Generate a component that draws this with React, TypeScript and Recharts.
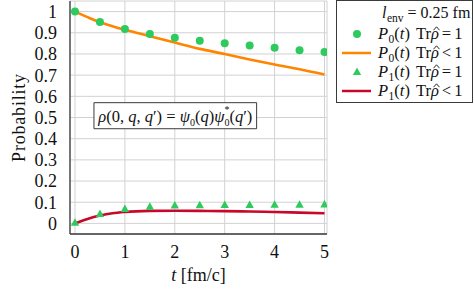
import React from 'react';
import { ComposedChart, Line, Scatter, XAxis, YAxis, CartesianGrid, ReferenceArea, Legend, Label } from 'recharts';

const tPoints = [0, 0.5, 1, 1.5, 2, 2.5, 3, 3.5, 4, 4.5, 5];
const p0Closed = [1.0, 0.951, 0.918, 0.894, 0.877, 0.862, 0.851, 0.84, 0.829, 0.818, 0.809];
const p1Closed = [0.003, 0.045, 0.068, 0.079, 0.085, 0.086, 0.087, 0.087, 0.088, 0.088, 0.089];
const tCurve = [0, 0.25, 0.5, 0.75, 1, 1.5, 2, 2.5, 3, 3.5, 4, 4.5, 5];
const p0Open = [1.0, 0.974, 0.95, 0.931, 0.914, 0.884, 0.854, 0.824, 0.8, 0.774, 0.75, 0.728, 0.703];
const p1Open = [0, 0.021, 0.037, 0.048, 0.054, 0.059, 0.06, 0.059, 0.058, 0.056, 0.054, 0.051, 0.048];
const xTicks = [0, 1, 2, 3, 4, 5];
const yTicks = [0, 0.1, 0.2, 0.3, 0.4, 0.5, 0.6, 0.7, 0.8, 0.9, 1];
const xDomain = [-0.1, 5.05];
const yDomain = [-0.05, 1.05];
const annotationX = [0.38, 3.64];
const annotationY = [0.447, 0.57];

const GREEN = '#2fca5e';
const ORANGE = '#ff8500';
const RED = '#c8082a';
const FRAME = '#3a3a3a';
const GRID = '#d2d2d2';
const FONT = "'Liberation Serif', 'Times New Roman', serif";

const closedP0 = tPoints.map((t, i) => ({ t, v: p0Closed[i] }));
const closedP1 = tPoints.map((t, i) => ({ t, v: p1Closed[i] }));
const openP0 = tCurve.map((t, i) => ({ t, v: p0Open[i] }));
const openP1 = tCurve.map((t, i) => ({ t, v: p1Open[i] }));

const Dot = (props: any) => <circle cx={props.cx} cy={props.cy} r={4} fill={GREEN} />;
const Tri = (props: any) => {
  const { cx, cy } = props;
  return <polygon points={`${cx},${cy - 4.5} ${cx - 4.2},${cy + 3} ${cx + 4.2},${cy + 3}`} fill={GREEN} />;
};

const Gap = ({ w }: { w: number }) => <span style={{ display: 'inline-block', width: w }} />;

const sub = (s: string, top = 4) => (
  <span style={{ fontSize: 11.5, lineHeight: '12px', position: 'relative', top, paddingLeft: 0.5 }}>{s}</span>
);

const RhoHat = () => (
  <span style={{ position: 'relative', display: 'inline-block', fontStyle: 'italic' }}>
    ρ
    <svg width={7} height={5} style={{ position: 'absolute', left: 2, top: 2 }}>
      <polyline points="0.5,4.2 3.5,0.8 6.5,4.2" fill="none" stroke="#111" strokeWidth={0.9} />
    </svg>
  </span>
);

const LegendRow = ({ marker, idx, rel }: { marker: React.ReactNode; idx: string; rel: string }) => (
  <div style={{ display: 'flex', alignItems: 'center', height: 19 }}>
    <svg width={41} height={19} style={{ flex: 'none' }}>{marker}</svg>
    <span style={{ whiteSpace: 'nowrap' }}>
      <i>P</i>{sub(idx)}(<i>t</i>)
      <Gap w={6} />
      Tr<RhoHat />
      <Gap w={3} />
      {rel}
      <Gap w={3} />
      1
    </span>
  </div>
);

const LegendBox = () => (
  <div
    style={{
      border: `1px solid ${FRAME}`,
      width: 137,
      height: 103,
      boxSizing: 'border-box',
      background: '#fff',
      fontFamily: FONT,
      fontSize: 16.5,
      lineHeight: '19px',
      paddingTop: 4,
      color: '#111',
    }}
  >
    <div style={{ height: 19, paddingLeft: 45, whiteSpace: 'nowrap', fontSize: 16, position: 'relative', top: -2 }}>
      <i>l</i>
      {sub('env', 3.5)}
      <Gap w={4} />
      =
      <Gap w={4} />
      0.25
      <Gap w={4} />
      fm
    </div>
    <LegendRow marker={<circle cx={20} cy={10} r={4} fill={GREEN} />} idx="0" rel="=" />
    <LegendRow marker={<line x1={5} x2={34} y1={10} y2={10} stroke={ORANGE} strokeWidth={2.5} />} idx="0" rel="<" />
    <LegendRow marker={<polygon points="20,5.5 15.8,13 24.2,13" fill={GREEN} />} idx="1" rel="=" />
    <LegendRow marker={<line x1={5} x2={34} y1={10} y2={10} stroke={RED} strokeWidth={2.5} />} idx="1" rel="<" />
  </div>
);

const AnnotationLabel = (props: any) => {
  const vb = props.viewBox;
  return (
    <text
      x={vb.x + vb.width / 2}
      y={vb.y + vb.height / 2 + 6}
      textAnchor="middle"
      fontFamily={FONT}
      fontSize={16.5}
      fill="#111"
    >
      <tspan fontStyle="italic">ρ</tspan>(0, <tspan fontStyle="italic">q</tspan>, <tspan fontStyle="italic">q</tspan>′) = <tspan fontStyle="italic">ψ</tspan>
      <tspan fontSize={10} dy={4}>0</tspan>
      <tspan dy={-4}>(</tspan><tspan fontStyle="italic">q</tspan>)<tspan fontStyle="italic">ψ</tspan>
      <tspan fontSize={10} dy={4}>0</tspan>
      <tspan fontSize={10} dx={-5} dy={-13}>*</tspan>
      <tspan dy={9}>(</tspan><tspan fontStyle="italic">q</tspan>′)
    </text>
  );
};

const tickStyle = { fontFamily: FONT, fontSize: 18, fill: '#111' };

export default function App() {
  return (
    <div style={{ position: 'absolute', left: 0, top: 0, width: 474, height: 290, background: '#fff' }}>
      <ComposedChart width={474} height={290} margin={{ top: 1, right: 147, bottom: 0, left: 0 }}>
        <CartesianGrid stroke={GRID} strokeWidth={1} />
        <XAxis
          type="number"
          dataKey="t"
          domain={xDomain}
          ticks={xTicks}
          allowDataOverflow
          height={56}
          tickLine={false}
          tickMargin={5}
          axisLine={{ stroke: FRAME, strokeWidth: 1.3 }}
          tick={tickStyle}
        >
          <Label
            content={(p: any) => {
              const vb = p.viewBox;
              return (
                <text x={vb.x + vb.width / 2} y={vb.y + 47} textAnchor="middle" fontFamily={FONT} fontSize={18} fill="#111">
                  <tspan fontStyle="italic">t</tspan> [fm/c]
                </text>
              );
            }}
          />
        </XAxis>
        <XAxis xAxisId="top" orientation="top" type="number" domain={xDomain} ticks={xTicks} allowDataOverflow height={0} tick={false} tickLine={false} axisLine={{ stroke: FRAME, strokeWidth: 1.3 }} />
        <YAxis
          type="number"
          domain={yDomain}
          ticks={yTicks}
          allowDataOverflow
          width={70}
          tickLine={false}
          tickMargin={7}
          interval={0}
          axisLine={{ stroke: FRAME, strokeWidth: 1.3 }}
          tick={tickStyle}
        >
          <Label
            content={(p: any) => {
              const vb = p.viewBox;
              const cy = vb.y + vb.height / 2;
              return (
                <text x={19} y={cy} transform={`rotate(-90, 19, ${cy})`} textAnchor="middle" dominantBaseline="central" fontFamily={FONT} fontSize={18} letterSpacing={0.8} fill="#111">
                  Probability
                </text>
              );
            }}
          />
        </YAxis>
        <YAxis yAxisId="right" orientation="right" type="number" domain={yDomain} ticks={yTicks} allowDataOverflow width={0} tick={false} tickLine={false} axisLine={{ stroke: FRAME, strokeWidth: 1.3 }} />
        <ReferenceArea
          x1={annotationX[0]}
          x2={annotationX[1]}
          y1={annotationY[0]}
          y2={annotationY[1]}
          fill="#fff"
          fillOpacity={1}
          stroke={FRAME}
          strokeWidth={1}
          label={<AnnotationLabel />}
        />
        <Line data={openP0} dataKey="v" type="monotone" stroke={ORANGE} strokeWidth={2.6} dot={false} isAnimationActive={false} />
        <Line data={openP1} dataKey="v" type="monotone" stroke={RED} strokeWidth={2.6} dot={false} isAnimationActive={false} />
        <Scatter data={closedP0} dataKey="v" shape={<Dot />} isAnimationActive={false} />
        <Scatter data={closedP1} dataKey="v" shape={<Tri />} isAnimationActive={false} />
        <Legend
          layout="horizontal"
          align="center"
          verticalAlign="middle"
          wrapperStyle={{ position: 'absolute', left: 336, top: 0, width: 137, height: 103 }}
          content={() => <LegendBox />}
        />
      </ComposedChart>
    </div>
  );
}
